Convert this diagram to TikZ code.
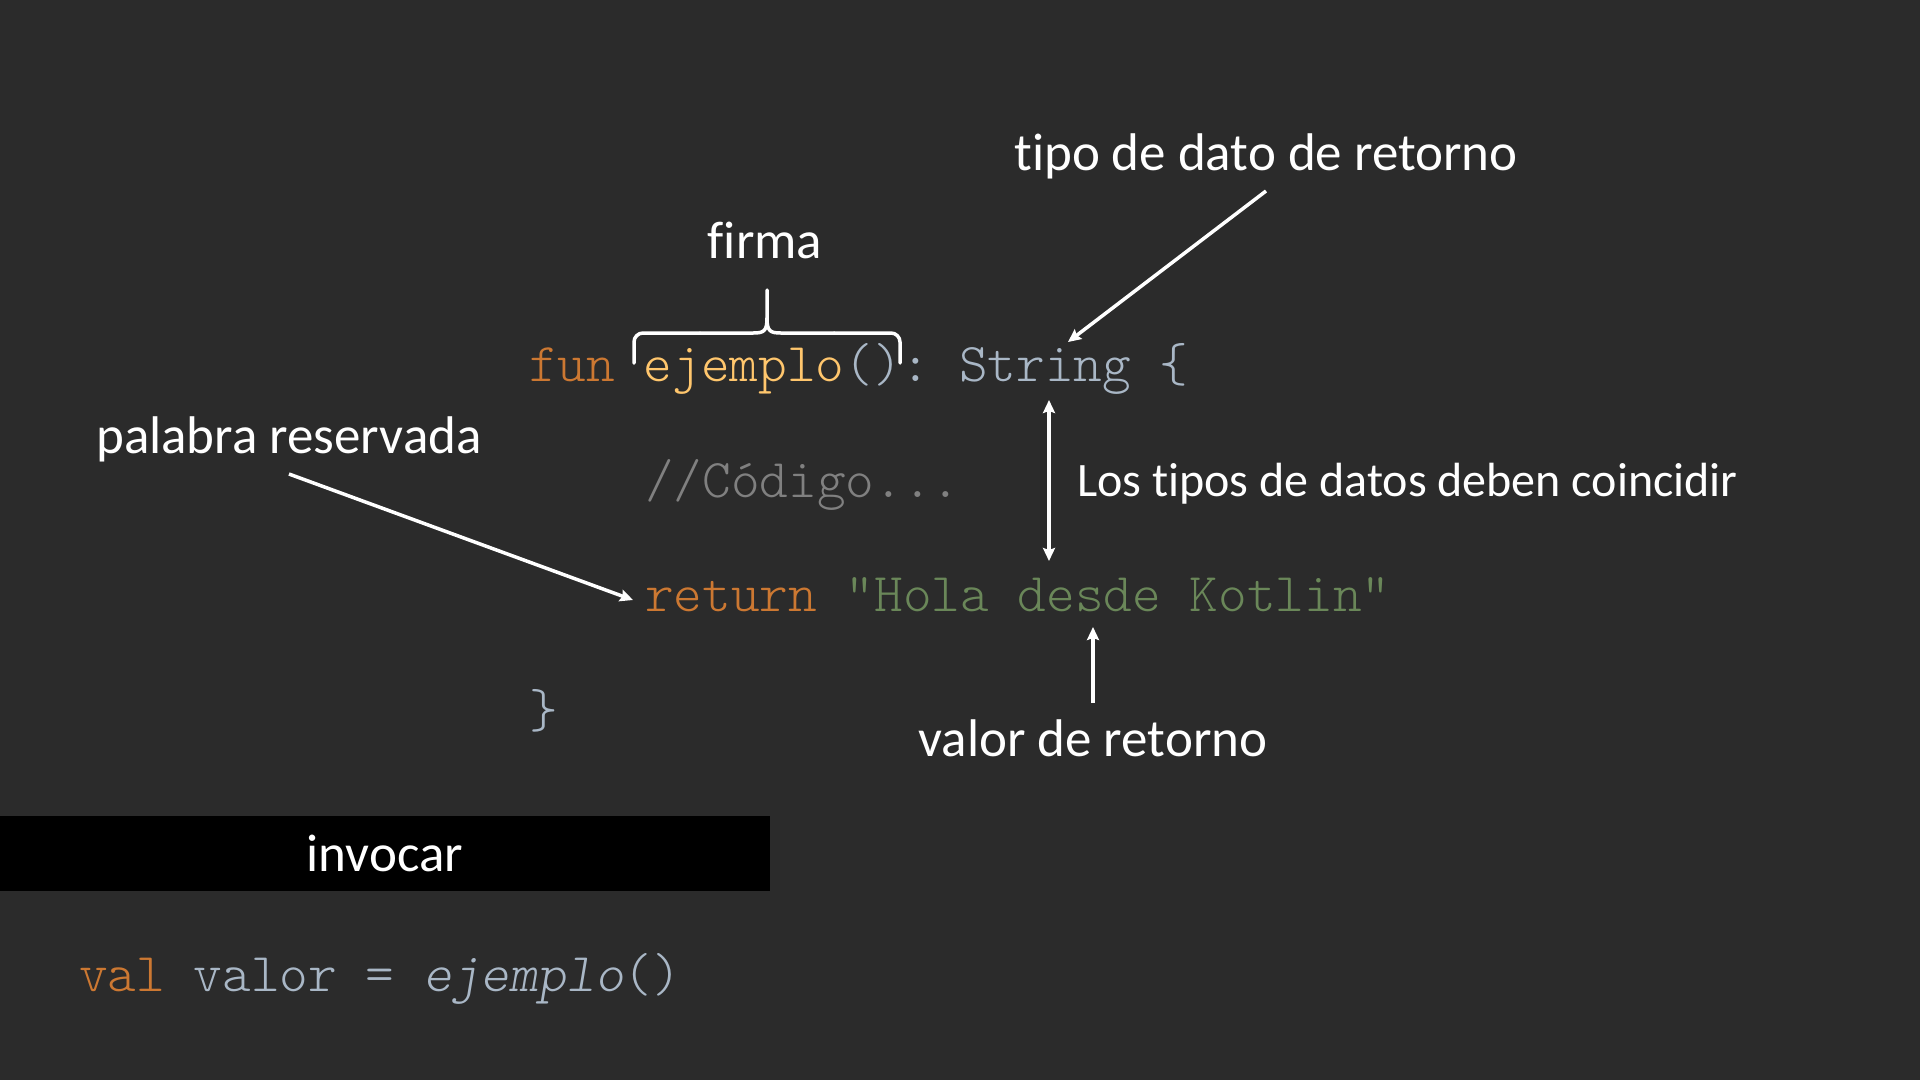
\documentclass[tikz,border=0pt]{standalone}
\usepackage{fontspec}
\setmainfont{Carlito}[Ligatures={TeX,NoCommon}]
\newfontfamily\codemono{lmmonolt10-regular}[Extension=.otf, ItalicFont=lmmonolt10-oblique, Ligatures=TeXOff]
\usetikzlibrary{arrows.meta}
\definecolor{bg}{HTML}{2B2B2B}
\definecolor{kw}{HTML}{CC7832}
\definecolor{fn}{HTML}{FFC66D}
\definecolor{plain}{HTML}{A9B7C6}
\definecolor{cmt}{HTML}{808080}
\definecolor{str}{HTML}{6A8759}
\begin{document}
\begin{tikzpicture}[x=1pt,y=-1pt,
  codetxt/.style={font={\codemono\fontsize{54.6pt}{66pt}\selectfont\frenchspacing}, anchor=base west, inner sep=0pt, text=plain},
  lbl/.style={font={\fontsize{53pt}{64pt}\selectfont}, text=white, inner sep=0pt},
  tip/.tip={Stealth[length=13pt,width=12pt,inset=2pt]},
  arr/.style={draw=white, line width=3.5pt, -tip},
  bracepath/.style={draw=white, line width=3.5pt, line cap=round, line join=round}
]
\fill[bg] (0,0) rectangle (1920,1080);
\useasboundingbox (0,0) rectangle (1920,1080);

% invoke bar
\node[fill=black, minimum width=770pt, minimum height=75pt, anchor=north west, inner sep=0pt, outer sep=0pt] (bar) at (0,816) {};
\node[lbl, anchor=base] (invocar) at (385,871) {invocar};

% code
\node[codetxt] (l1) at (529,381) {\textcolor{kw}{fun} \textcolor{fn}{ejemplo}(): String \{};
\node[codetxt, text=cmt] (l2) at (645,497) {//Código...};
\node[codetxt] (l3) at (645,611) {\textcolor{kw}{return} \textcolor{str}{"Hola desde Kotlin"}};
\node[codetxt] (l4) at (529,727) {\}};
\node[codetxt] (l5) at (79,991) {\textcolor{kw}{val} valor = \textit{ejemplo}()};

% labels
\node[lbl, anchor=base] (firma) at (765,258) {firma};
\node[lbl, anchor=base] (tipo) at (1266,170) {tipo de dato de retorno};
\node[lbl, anchor=base west] (palabra) at (96,453) {palabra reservada};
\node[lbl, anchor=base west, font={\fontsize{48pt}{58pt}\selectfont}] (coinc) at (1077,496) {Los tipos de datos deben coincidir};
\node[lbl, anchor=base] (valor) at (1093,756) {valor de retorno};

% brace
\draw[bracepath, rounded corners=9pt] (634,363) -- (634,333) -- (700,333);
\draw[bracepath] (700,333) -- (753,333) .. controls (764,333) and (767,331) .. (767,318) -- (767,290);
\draw[bracepath] (767,318) .. controls (767,331) and (770,333) .. (781,333) -- (834,333);
\draw[bracepath, rounded corners=9pt] (834,333) -- (900,333) -- (900,363);

% arrows
\coordinate (tipoA) at (1266,191);
\coordinate (tipoB) at (1068,342);
\draw[arr] (tipoA) -- (tipoB);
\coordinate (dTop) at (1049,400);
\coordinate (dBot) at (1049,561);
\draw[arr, tip-tip] (dTop) -- (dBot);
\coordinate (palA) at (289,474);
\coordinate (palB) at (633,600);
\draw[arr] (palA) -- (palB);
\coordinate (valA) at (1093,703);
\coordinate (valB) at (1093,627);
\draw[arr] (valA) -- (valB);
\end{tikzpicture}
\end{document}
